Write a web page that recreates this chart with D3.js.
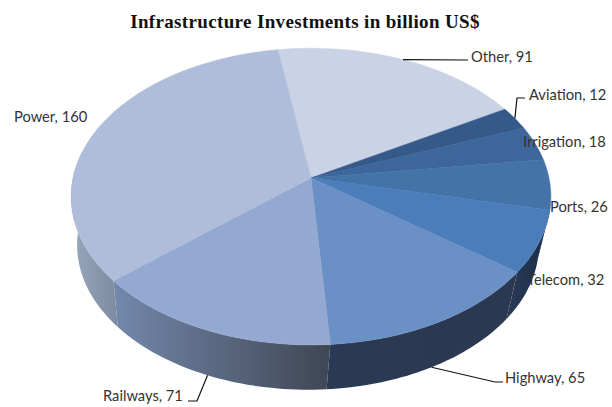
<!DOCTYPE html>
<html><head><meta charset="utf-8">
<script src="https://cdn.jsdelivr.net/npm/d3@7"></script>
<style>html,body{margin:0;background:#fff}svg{display:block}</style>
</head><body><svg id="chart" width="612" height="407"></svg>
<script>
// Infrastructure investments by sector
const categories = ["Other","Aviation","Irrigation","Ports","Telecom","Highway","Railways","Power"];
const values = [91,12,18,26,32,65,71,160];
const topColors = ["#cad2e5","#355a8a","#3d669b","#4473a8","#4a7db9","#6a90c6","#94a9d1","#afbddb"];
const sideLeft = ["#cad2e5","#355a8a","#3d669b","#4473a8","#2a3a55","#2b3a54","#7388ab","#9aa8bc"];
const sideRight = ["#cad2e5","#355a8a","#3d669b","#1b2d4a","#1b2d4a","#2a3850","#3f4654","#7a8aa0"];
const labelLeft = [471,529,523,550,527,505,103,14];
const labelBase = [62,100,147,212,285,383,401,122];
// Leader elbows for the labels that have one; the rim end comes from the slice's mid angle
const elbows = {
  Other: {rim: "top", pts: [[468,60]]},
  Aviation: {rim: "top", pts: [[517,98],[525,98]]},
  Highway: {rim: "low", pts: [[495,382],[503,382]]},
  Railways: {rim: "low", pts: [[197,401],[188,401]]}
};
const titleText = "Infrastructure Investments in billion US$";

const svg = d3.select("#chart");
const defs = svg.append("defs");

// Tilted disc: a unit circle seen in perspective, the near edge drawn larger.
const cx = 311, cy = 178, rx = 238, ry = 146, tilt = 0.125;
const depth = 49, shrinkX = 0.9625, shrinkY = 0.975, lowerShift = -3;
const project = (a, sx, sy, dx, dy) => {
  const u = Math.sin(a), v = -Math.cos(a), w = 1 - tilt * v;
  return [cx + dx + sx * rx * u / w, cy + dy + sy * ry * v / w];
};
const upperRim = a => project(a, 1, 1, 0, 0);
const lowerRim = a => project(a, shrinkX, shrinkY, lowerShift, depth);
const line = d3.line();
const arcPts = (f, a0, a1) => d3.range(0, 41).map(i => f(a0 + (a1 - a0) * i / 40));

const startAngle = -9 * Math.PI / 180;
const slices = d3.pie().sort(null).value(d => d)
  .startAngle(startAngle).endAngle(startAngle + 2 * Math.PI)(values);

// Rim: only the part of each slice facing the viewer
const rimFrom = Math.PI * 0.56, rimTo = Math.PI * 1.56;
slices.forEach((s, i) => {
  const a0 = Math.max(s.startAngle, rimFrom), a1 = Math.min(s.endAngle, rimTo);
  if (a1 <= a0) return;
  const upper = arcPts(upperRim, a0, a1), lower = arcPts(lowerRim, a0, a1).reverse();
  const xs = upper.concat(lower).map(p => p[0]);
  const id = "rim" + i;
  const g = defs.append("linearGradient").attr("id", id).attr("gradientUnits", "userSpaceOnUse")
    .attr("x1", d3.min(xs)).attr("x2", d3.max(xs)).attr("y1", 0).attr("y2", 0);
  g.append("stop").attr("offset", 0).attr("stop-color", sideLeft[i]);
  g.append("stop").attr("offset", 1).attr("stop-color", sideRight[i]);
  svg.append("path").attr("d", line(upper.concat(lower)) + "Z").attr("fill", `url(#${id})`);
});

// Top face
slices.forEach((s, i) => {
  svg.append("path")
    .attr("d", line([[cx, cy]].concat(arcPts(upperRim, s.startAngle, s.endAngle))) + "Z")
    .attr("fill", topColors[i]).attr("stroke", topColors[i]).attr("stroke-width", 0.5);
});

// Leader lines
categories.forEach((c, i) => {
  const e = elbows[c];
  if (!e) return;
  const mid = (slices[i].startAngle + slices[i].endAngle) / 2;
  const start = (e.rim === "top" ? upperRim : lowerRim)(mid);
  svg.append("path").attr("d", line([start].concat(e.pts)))
    .attr("fill", "none").attr("stroke", "#111").attr("stroke-width", 1.2);
});

// Slice labels
svg.selectAll("text.lab").data(categories).join("text").attr("class", "lab")
  .attr("x", (d, i) => labelLeft[i]).attr("y", (d, i) => labelBase[i])
  .attr("font-family", "Lato, 'Open Sans', sans-serif").attr("font-size", 14.7).attr("fill", "#333")
  .text((d, i) => `${d}, ${values[i]}`);

svg.append("text").attr("x", 305).attr("y", 28).attr("text-anchor", "middle")
  .attr("font-family", "'Liberation Serif', serif").attr("font-weight", "bold")
  .attr("font-size", 19).attr("letter-spacing", 0.35).attr("fill", "#111").text(titleText);
</script></body></html>
